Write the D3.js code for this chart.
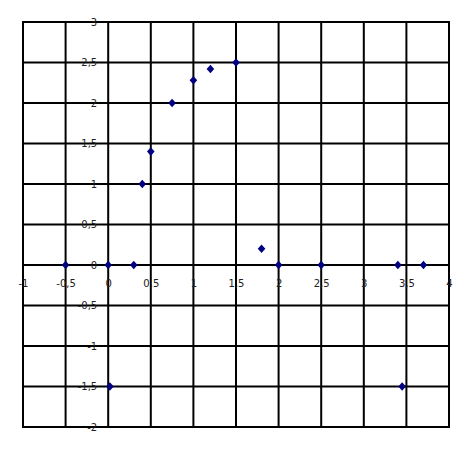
<!DOCTYPE html>
<html>
<head>
<meta charset="utf-8">
<script src="https://cdn.jsdelivr.net/npm/d3@7"></script>
<style>
  body { margin: 0; background: #fff; }
  svg { display: block; }
  .tick text { font-family: "DejaVu Sans", Verdana, sans-serif; font-size: 10px; fill: #222; }
</style>
</head>
<body>
<svg width="475" height="452"></svg>
<script>
// data
var xs = [-0.5, 0, 0.3, 0.02, 0.4, 0.5, 0.75, 1, 1.2, 1.5, 1.8, 2, 2.5, 3.4, 3.7, 3.45];
var ys = [0, 0, 0, -1.5, 1, 1.4, 2, 2.28, 2.42, 2.5, 0.2, 0, 0, 0, 0, -1.5];
var xTicks = [-1, -0.5, 0, 0.5, 1, 1.5, 2, 2.5, 3, 3.5, 4];
var yTicks = [-2, -1.5, -1, -0.5, 0, 0.5, 1, 1.5, 2, 2.5, 3];

var svg = d3.select("svg");
var plotLeft = 23, plotRight = 449, plotTop = 22, plotBottom = 427;

var x = d3.scaleLinear().domain([-1, 4]).range([plotLeft, plotRight]);
var y = d3.scaleLinear().domain([-2, 3]).range([plotBottom, plotTop]);

// comma as decimal mark
var fmt = d3.formatLocale({decimal: ",", thousands: ".", grouping: [3], currency: ["", ""]}).format("~g");
var fmtTick = function(d) { return fmt(d).replace("\u2212", "-"); };

// grid
var grid = svg.append("g");
grid.selectAll(".vx")
  .data(xTicks)
  .enter()
  .append("line")
  .attr("x1", function(d) { return x(d); })
  .attr("x2", function(d) { return x(d); })
  .attr("y1", plotTop)
  .attr("y2", plotBottom)
  .attr("stroke", "#000")
  .attr("stroke-width", 2);
grid.selectAll(".hy")
  .data(yTicks)
  .enter()
  .append("line")
  .attr("x1", plotLeft - 1)
  .attr("x2", plotRight + 1)
  .attr("y1", function(d) { return y(d); })
  .attr("y2", function(d) { return y(d); })
  .attr("stroke", "#000")
  .attr("stroke-width", 2);

// tick labels sit along the zero lines
var xAxis = svg.append("g")
  .attr("transform", "translate(0," + y(0) + ")")
  .call(d3.axisBottom(x).tickValues(xTicks).tickSize(0).tickPadding(15).tickFormat(fmtTick));
xAxis.select(".domain").remove();

var yAxis = svg.append("g")
  .attr("transform", "translate(" + x(0) + ",0)")
  .call(d3.axisLeft(y).tickValues(yTicks).tickSize(0).tickPadding(11).tickFormat(fmtTick));
yAxis.select(".domain").remove();

// points
var pts = xs.map(function(d, i) { return {x: d, y: ys[i]}; });
svg.append("g")
  .selectAll("path")
  .data(pts)
  .enter()
  .append("path")
  .attr("transform", function(d) { return "translate(" + x(d.x) + "," + y(d.y) + ")"; })
  .attr("d", "M0,-4.3L3.8,0L0,4.3L-3.8,0Z")
  .attr("fill", "#000080");
</script>
</body>
</html>
